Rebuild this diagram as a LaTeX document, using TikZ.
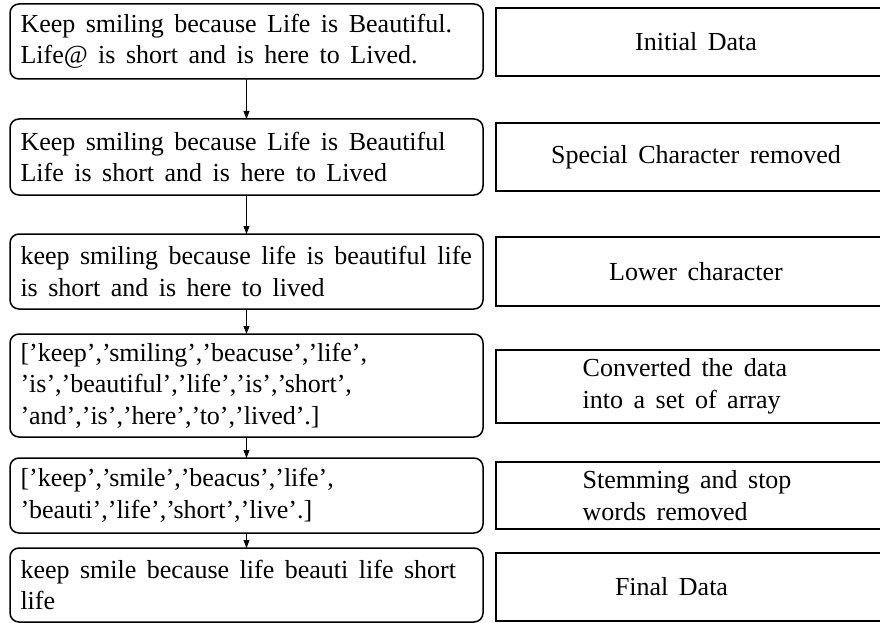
\documentclass[tikz,border=0pt]{standalone}
\usepackage{fontspec}
\setmainfont{Liberation Serif}
\usetikzlibrary{arrows.meta}

\begin{document}
\begin{tikzpicture}[x=1pt, y=-1pt,
  every node/.style={font=\fontsize{26}{31.5}\selectfont, outer sep=0pt,
    execute at begin node={\spaceskip=10.5pt plus 3pt minus 1pt\relax}},
  stagebox/.style={draw, line width=1.5pt, rounded corners=9pt,
    text width=452pt, inner xsep=10.5pt, inner ysep=2pt, align=left},
  notebox/.style={draw, line width=1.5pt, minimum width=400pt,
    inner sep=2pt, align=center},
  flow/.style={line width=0.8pt, -{Triangle[length=8pt,width=6pt]}}]

\useasboundingbox (0,0) rectangle (880,623);
\clip (0,0) rectangle (880,623);

% processing stages (left column)
\node[stagebox, minimum height=75pt] (s1) at (246.5,41.5)
  {Keep smiling because Life is Beautiful.\\Life@ is short and is here to Lived.};
\node[stagebox, minimum height=76pt] (s2) at (246.5,157)
  {Keep smiling because Life is Beautiful\\Life is short and is here to Lived};
\node[stagebox, minimum height=75pt] (s3) at (246.5,271.5)
  {keep smiling because life is beautiful life\\is short and is here to lived};
\node[stagebox, minimum height=103pt] (s4) at (246.5,385.5)
  {['keep','smiling','beacuse','life',\\'is','beautiful','life','is','short',\\'and','is','here','to','lived'.]};
\node[stagebox, minimum height=75pt] (s5) at (246.5,495.5)
  {['keep','smile','beacus','life',\\'beauti','life','short','live'.]};
\node[stagebox, minimum height=74pt] (s6) at (246.5,585)
  {keep smile because life beauti life short\\life};

% descriptions (right column)
\node[notebox, minimum height=68pt] (d1) at (696,42) {Initial Data};
\node[notebox, minimum height=68pt] (d2) at (696,157) {Special Character removed};
\node[notebox, minimum height=69pt] (d3) at (696,271.5) {Lower character};
\node[notebox, minimum height=73pt, text width=226.6pt, align=left] (d4) at (696,386.5)
  {Converted the data\\into a set of array};
\node[notebox, minimum height=67pt, text width=226.6pt, align=left] (d5) at (696,495.5)
  {Stemming and stop\\words removed};
\node[notebox, minimum height=68pt, text width=162pt, align=left] (d6) at (696,587)
  {Final Data};

% flow between stages
\draw[flow] (s1) -- (s2);
\draw[flow] (s2) -- (s3);
\draw[flow] (s3) -- (s4);
\draw[flow] (s4) -- (s5);
\draw[flow] (s5) -- (s6);
\end{tikzpicture}
\end{document}
